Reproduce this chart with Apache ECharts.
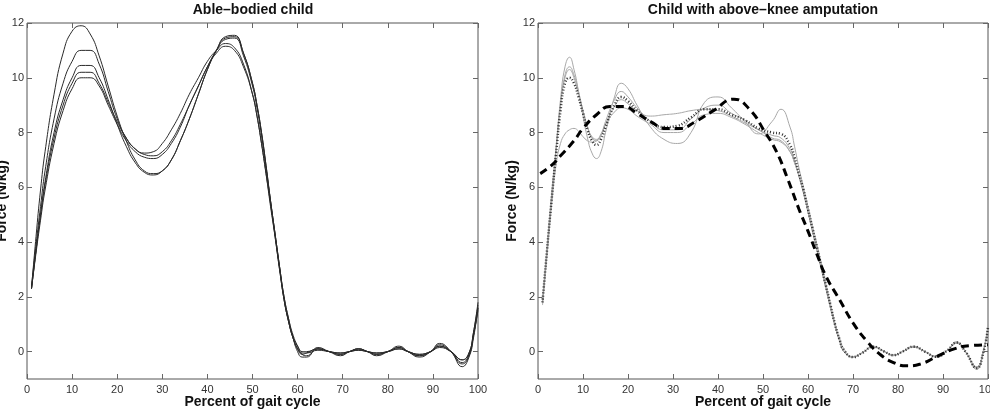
<!DOCTYPE html>
<html>
<head>
<meta charset="utf-8">
<script src="https://cdn.jsdelivr.net/npm/echarts@6/dist/echarts.min.js"></script>
<style>
  html, body { margin: 0; padding: 0; background: #fff; }
  #chart { width: 990px; height: 413px; }
</style>
</head>
<body>
<div id="chart"></div>
<script>
var FONT = 'Liberation Sans';

var xTicks = [0, 10, 20, 30, 40, 50, 60, 70, 80, 90, 100];
var yTicks = [0, 2, 4, 6, 8, 10, 12];

// left panel: five trials of the able-bodied child
var xAble = [1, 2, 3, 4, 6, 8, 10, 12, 14, 16, 18, 20, 22, 24, 26, 28, 30, 32, 34, 36, 38, 40, 42, 44, 46, 48,
  50, 51, 52, 53, 54, 55, 56, 57, 58, 59, 60, 61, 62, 64.5, 67, 69.5, 71.5, 73.5, 75.5, 77.5, 80, 82.5, 84.5,
  87, 89.5, 91.5, 94, 96.5, 98, 99, 100];
var ableA = [2.3, 4.2, 5.9, 7.3, 9.4, 10.9, 11.7, 11.9, 11.6, 10.8, 9.7, 8.6, 7.7, 7.0, 6.6, 6.5, 6.6, 7.0, 7.7, 8.5,
  9.4, 10.3, 11.0, 11.45, 11.5, 10.9, 9.8, 9.0, 8.0, 6.8, 5.5, 4.3, 3.1, 1.9, 1.1, 0.5, 0.1, -0.1, -0.05, 0.1,
  0.0, -0.1, 0.0, 0.1, 0.0, -0.1, 0.0, 0.15, 0.0, -0.15, 0.0, 0.2, 0.0, -0.4, -0.1, 0.6, 1.6];
var ableB = [2.4, 3.9, 5.3, 6.6, 8.5, 9.8, 10.6, 11.0, 11.0, 10.5, 9.5, 8.5, 7.8, 7.4, 7.25, 7.3, 7.6, 8.1, 8.7, 9.4,
  10.0, 10.6, 11.0, 11.25, 11.1, 10.5, 9.4, 8.6, 7.6, 6.5, 5.3, 4.2, 3.0, 1.9, 1.1, 0.5, 0.2, 0.0, 0.0, 0.1,
  0.0, -0.05, 0.0, 0.05, 0.0, -0.05, 0.0, 0.1, 0.0, -0.1, 0.0, 0.2, 0.0, -0.3, -0.05, 0.7, 1.7];
var ableC = [2.3, 3.7, 5.0, 6.2, 8.0, 9.2, 10.0, 10.45, 10.45, 10.0, 9.2, 8.3, 7.5, 6.9, 6.55, 6.45, 6.6, 7.0, 7.7, 8.5,
  9.4, 10.3, 11.0, 11.5, 11.55, 10.9, 9.8, 9.0, 8.0, 6.8, 5.5, 4.3, 3.1, 2.0, 1.2, 0.5, 0.0, -0.2, -0.2, 0.15,
  0.0, -0.15, 0.0, 0.1, 0.0, -0.15, 0.0, 0.2, 0.0, -0.2, 0.0, 0.3, 0.0, -0.55, -0.2, 0.5, 1.6];
var ableD = [2.3, 3.7, 5.0, 6.1, 7.8, 9.0, 9.8, 10.2, 10.2, 9.8, 9.1, 8.4, 7.8, 7.4, 7.2, 7.15, 7.3, 7.7, 8.3, 9.0,
  9.7, 10.4, 10.9, 11.15, 11.0, 10.4, 9.4, 8.6, 7.6, 6.5, 5.4, 4.2, 3.0, 1.9, 1.1, 0.5, 0.1, -0.05, -0.05, 0.05,
  0.0, -0.05, 0.0, 0.05, 0.0, -0.05, 0.0, 0.1, 0.0, -0.1, 0.0, 0.15, 0.0, -0.3, -0.05, 0.7, 1.8];
var ableE = [2.3, 3.6, 4.8, 5.9, 7.6, 8.8, 9.6, 10.0, 10.0, 9.7, 9.0, 8.3, 7.7, 7.3, 7.1, 7.05, 7.2, 7.6, 8.2, 9.0,
  9.7, 10.4, 11.0, 11.4, 11.45, 10.8, 9.7, 8.9, 7.9, 6.7, 5.5, 4.3, 3.1, 2.0, 1.2, 0.6, 0.2, -0.1, -0.15, 0.1,
  0.0, -0.1, 0.0, 0.1, 0.0, -0.1, 0.0, 0.15, 0.0, -0.15, 0.0, 0.25, 0.0, -0.45, -0.15, 0.6, 1.5];

// right panel: four trials (grey), their mean (dotted) and the dashed curve
var xAmp = [1, 2, 3, 4, 5, 6, 7, 8, 9, 10, 11, 12, 13, 14, 15, 17, 18.5, 20, 22, 25, 28, 31, 34, 37, 40, 43, 46, 49,
  52, 54, 56, 57, 58, 59, 60, 61, 62, 63, 64, 65, 66, 67, 68, 70, 72, 74.5, 77, 79, 81, 83.5, 86, 88.5, 91, 93,
  95, 97.5, 99, 100];
var ampG1 = [1.7, 3.6, 5.5, 7.4, 9.2, 10.4, 10.75, 10.3, 9.5, 8.6, 7.8, 7.25, 7.05, 7.3, 8.0, 9.3, 9.8, 9.6, 9.0, 8.2,
  7.75, 7.6, 8.0, 9.1, 9.3, 8.9, 8.4, 7.95, 8.4, 8.85, 8.2, 7.5, 6.7, 6.0, 5.3, 4.6, 3.9, 3.2, 2.45, 1.75, 1.05,
  0.5, 0.1, -0.2, -0.05, 0.2, 0.0, -0.15, 0.0, 0.2, 0.0, -0.2, 0.05, 0.36, 0.0, -0.65, 0.05, 1.0];
var ampG2 = [1.8, 3.7, 5.6, 7.3, 9.0, 10.1, 10.4, 10.1, 9.5, 8.8, 8.2, 7.8, 7.7, 7.9, 8.4, 9.2, 9.5, 9.3, 8.9, 8.4,
  8.1, 8.1, 8.5, 8.9, 9.0, 8.7, 8.45, 8.1, 7.9, 7.8, 7.4, 7.0, 6.4, 5.8, 5.1, 4.4, 3.7, 3.0, 2.3, 1.6, 0.95,
  0.4, 0.0, -0.2, -0.05, 0.18, 0.0, -0.12, 0.0, 0.18, 0.0, -0.18, 0.05, 0.33, 0.0, -0.6, 0.0, 0.9];
var ampG3 = [1.9, 3.8, 5.7, 7.4, 9.0, 10.0, 10.3, 10.0, 9.4, 8.8, 8.2, 7.85, 7.75, 7.9, 8.3, 8.95, 9.2, 9.05, 8.8, 8.6,
  8.65, 8.7, 8.8, 8.85, 8.8, 8.6, 8.35, 8.1, 7.8, 7.7, 7.3, 6.9, 6.4, 5.8, 5.1, 4.4, 3.7, 3.0, 2.3, 1.6, 0.95,
  0.4, 0.0, -0.18, -0.05, 0.16, 0.0, -0.12, 0.0, 0.16, 0.0, -0.17, 0.05, 0.3, 0.0, -0.55, 0.05, 0.85];
var ampG4 = [1.8, 3.5, 5.3, 6.8, 7.6, 7.95, 8.1, 8.15, 8.05, 7.85, 7.7, 7.65, 7.7, 7.95, 8.3, 8.75, 8.9, 8.85, 8.6, 8.3,
  8.0, 8.0, 8.3, 8.65, 8.7, 8.55, 8.3, 8.0, 7.75, 7.65, 7.3, 6.9, 6.4, 5.8, 5.1, 4.4, 3.7, 3.0, 2.3, 1.6, 0.95,
  0.4, 0.0, -0.2, -0.05, 0.18, 0.0, -0.13, 0.0, 0.18, 0.0, -0.19, 0.05, 0.33, 0.0, -0.6, 0.0, 0.9];
var ampMean = [1.8, 3.7, 5.5, 7.2, 8.8, 9.8, 10.0, 9.8, 9.3, 8.7, 8.1, 7.7, 7.55, 7.75, 8.2, 9.0, 9.3, 9.15, 8.8, 8.4,
  8.2, 8.25, 8.55, 8.85, 8.85, 8.65, 8.45, 8.15, 8.0, 7.95, 7.55, 7.1, 6.5, 5.9, 5.2, 4.5, 3.8, 3.1, 2.4, 1.7, 1.0,
  0.45, 0.05, -0.2, -0.05, 0.18, 0.0, -0.13, 0.0, 0.18, 0.0, -0.19, 0.05, 0.33, 0.0, -0.6, 0.0, 0.9];
var xDash = [0.5, 3, 5, 8, 10, 13, 16, 19, 22, 25, 28.5, 31.5, 35, 39, 43.5, 47, 50.5, 53, 55.5, 58, 60, 62, 64, 67,
  70, 73, 76, 79, 82, 85, 89, 92.5, 96, 100];
var ampDash = [6.5, 6.8, 7.15, 7.7, 8.15, 8.65, 8.95, 8.95, 8.7, 8.4, 8.15, 8.15, 8.4, 8.8, 9.22, 8.85, 8.0, 7.3, 6.3,
  5.2, 4.4, 3.55, 2.75, 1.9, 1.05, 0.4, -0.1, -0.4, -0.52, -0.45, -0.15, 0.1, 0.22, 0.25];

function pairs(xs, ys) {
  return xs.map(function (x, i) { return [x, ys[i]]; });
}

function xAxisFor(grid, pos, withLabels) {
  return {
    type: 'value', gridIndex: grid, position: pos, min: 0, max: 100, interval: 10,
    axisLine: { show: false, onZero: false }, splitLine: { show: false },
    axisTick: { inside: true, length: 5, lineStyle: { color: '#666' } },
    axisLabel: { show: withLabels, color: '#333', fontSize: 11, fontFamily: FONT, margin: 5 },
    name: withLabels ? 'Percent of gait cycle' : '',
    nameLocation: 'middle', nameGap: 16, nameMoveOverlap: false,
    nameTextStyle: { fontFamily: FONT, fontSize: 14, fontWeight: 'bold', color: '#111' }
  };
}

function yAxisFor(grid, pos, withLabels, gap) {
  return {
    type: 'value', gridIndex: grid, position: pos, min: -1, max: 12,
    axisLine: { show: false, onZero: false }, splitLine: { show: false },
    axisTick: { inside: true, length: 5, customValues: yTicks, lineStyle: { color: '#666' } },
    axisLabel: { show: withLabels, customValues: yTicks, color: '#333', fontSize: 11, fontFamily: FONT, margin: 3 },
    name: withLabels ? 'Force (N/kg)' : '',
    nameLocation: 'middle', nameGap: gap || 0, nameMoveOverlap: false,
    nameTextStyle: { fontFamily: FONT, fontSize: 14, fontWeight: 'bold', color: '#111' }
  };
}

var series = [];
[ableA, ableB, ableC, ableD, ableE].forEach(function (c) {
  series.push({
    type: 'line', xAxisIndex: 0, yAxisIndex: 0, data: pairs(xAble, c),
    smooth: 0.5, symbol: 'none', lineStyle: { color: '#2a2a2a', width: 1 }
  });
});
[ampG1, ampG2, ampG3, ampG4].forEach(function (c) {
  series.push({
    type: 'line', xAxisIndex: 2, yAxisIndex: 2, data: pairs(xAmp, c),
    smooth: 0.5, symbol: 'none', lineStyle: { color: '#a8a8a8', width: 1 }
  });
});
series.push({
  type: 'line', xAxisIndex: 2, yAxisIndex: 2, data: pairs(xAmp, ampMean),
  smooth: 0.5, symbol: 'none', lineStyle: { color: '#333', width: 2.5, type: [1, 2] }
});
series.push({
  type: 'line', xAxisIndex: 2, yAxisIndex: 2, data: pairs(xDash, ampDash),
  smooth: 0.5, symbol: 'none', lineStyle: { color: '#000', width: 3, type: [8, 5] }
});

var chart = echarts.init(document.getElementById('chart'));
chart.setOption({
  animation: false,
  backgroundColor: '#fff',
  grid: [
    { left: 27, top: 23, width: 451, bottom: 34, show: true, borderColor: '#555', borderWidth: 1, outerBoundsMode: 'none' },
    { left: 538, top: 23, width: 450, bottom: 34, show: true, borderColor: '#555', borderWidth: 1, outerBoundsMode: 'none' }
  ],
  xAxis: [xAxisFor(0, 'bottom', true), xAxisFor(0, 'top', false), xAxisFor(1, 'bottom', true), xAxisFor(1, 'top', false)],
  yAxis: [yAxisFor(0, 'left', true, 18), yAxisFor(0, 'right', false), yAxisFor(1, 'left', true, 19), yAxisFor(1, 'right', false)],
  graphic: [
    { type: 'text', x: 253, y: 10, style: { text: 'Able\u2013bodied child', font: 'bold 14px "Liberation Sans"', fill: '#111', textAlign: 'center', textVerticalAlign: 'middle' } },
    { type: 'text', x: 763, y: 10, style: { text: 'Child with above\u2013knee amputation', font: 'bold 14px "Liberation Sans"', fill: '#111', textAlign: 'center', textVerticalAlign: 'middle' } }
  ],
  series: series
});
</script>
</body>
</html>
